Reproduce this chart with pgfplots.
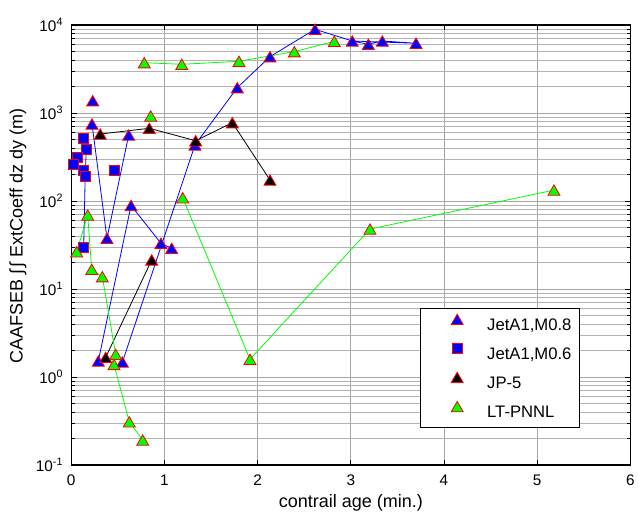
\documentclass[border=0pt]{standalone}
\usepackage{fontspec}
\setmainfont{Liberation Sans}
\usepackage{pgfplots}
\pgfplotsset{compat=1.18}

\definecolor{ptblue}{rgb}{0,0,1}
\definecolor{ptgreen}{rgb}{0,1,0}
\definecolor{ptedge}{rgb}{1,0,0}

% triangle marks centred on their bounding box rather than their centroid
\pgfplotsset{tri/.style={only marks, mark=triangle*, mark size=5.2pt,
  mark options={fill=#1, draw=ptedge, line width=0.6pt, yshift=-1.3pt}}}

\begin{document}
\begin{tikzpicture}
\begin{axis}[
  scale only axis,
  width=419.4pt, height=330pt,
  ymode=log,
  xmin=0, xmax=6, ymin=0.1, ymax=10000,
  xtick={0,1,2,3,4,5,6},
  xticklabels={0,1,2,3,4,5,6},
  ytick={0.1,1,10,100,1000,10000},
  yticklabels={10\textsuperscript{-1},10\textsuperscript{0},10\textsuperscript{1},10\textsuperscript{2},10\textsuperscript{3},10\textsuperscript{4}},
  minor ytick={0.2,0.3,0.4,0.5,0.6,0.7,0.8,0.9,
               2,3,4,5,6,7,8,9,
               20,30,40,50,60,70,80,90,
               200,300,400,500,600,700,800,900,
               2000,3000,4000,5000,6000,7000,8000,9000},
  xtick pos=both, ytick pos=both,
  tick align=inside,
  major tick length=4pt, minor tick length=2.5pt,
  tick style={black, line width=0.6pt},
  xmajorgrids=true, ymajorgrids=true, yminorgrids=true,
  major grid style={gray!70, line width=0.6pt},
  minor grid style={gray!60, line width=0.5pt},
  axis line style={black, line width=1pt},
  ticklabel style={font=\fontsize{11.5}{13}\selectfont},
  xticklabel style={yshift=-4pt},
  yticklabel style={xshift=-2.5pt},
  label style={font=\fontsize{13.5}{16}\selectfont},
  xlabel={contrail age (min.)},
  ylabel={CAAFSEB ∫\,∫ ExtCoeff dz dy (m)},
  x label style={at={(axis description cs:0.5,-0.0864)}, anchor=center},
  y label style={at={(axis description cs:-0.0954,0.52)}, anchor=center},
  legend style={
    at={(0.624,0.357)}, anchor=north west,
    draw=black, line width=0.6pt, fill=white,
    font=\fontsize{12.5}{15}\selectfont,
    inner xsep=6pt, inner ysep=4.4pt,
    row sep=7pt, column sep=13pt,
    nodes={inner sep=0pt, text height=9pt, text depth=2.5pt},
  },
  legend cell align=left,
  legend image code/.code={%
    \path[draw=none, fill=none] (0pt,-4pt) rectangle (31pt,4pt);
    \draw[#1] plot coordinates {(21.5pt,5.2pt)};%
  },
]

% connecting lines, drawn underneath the markers
\addplot[ptblue, line width=0.6pt, forget plot] coordinates {
  (0.223,750) (0.384,37.7) (0.617,562)};
\addplot[ptblue, line width=0.6pt, forget plot] coordinates {
  (0.291,1.52) (0.642,88.9) (0.963,33.1) (1.078,29.0)};
\addplot[ptblue, line width=0.6pt, forget plot] coordinates {
  (0.550,1.48) (1.328,433) (1.782,1939) (2.133,4365) (2.616,8940)
  (3.016,6580) (3.188,6040) (3.338,6580) (3.700,6200) (3.016,6580)};
\addplot[ptblue, line width=0.6pt, forget plot] coordinates {
  (0.132,513) (0.162,387) (0.150,192) (0.134,29.8)};
\addplot[black, line width=0.6pt, forget plot] coordinates {
  (0.312,577) (0.838,670) (1.336,484) (1.729,776) (2.133,173)};
\addplot[black, line width=0.6pt, forget plot] coordinates {
  (0.370,1.67) (0.864,21.4)};
\addplot[ptgreen, line width=0.6pt, forget plot] coordinates {
  (0.784,3730) (1.186,3575) (1.800,3870) (2.394,4975) (2.823,6530)};
\addplot[ptgreen, line width=0.6pt, forget plot] coordinates {
  (0.059,26.5) (0.177,69.3) (0.220,16.7) (0.334,13.8) (0.477,1.81)
  (0.459,1.39) (0.623,0.31) (0.767,0.192)};
\addplot[ptgreen, line width=0.6pt, forget plot] coordinates {
  (1.196,109) (1.918,1.59) (3.206,48) (5.18,133)};

% JetA1, M0.8
\addplot[tri=ptblue] coordinates {
  (0.231,1380) (0.223,750) (0.384,37.7) (0.617,562) (0.291,1.52)
  (0.642,88.9) (0.963,33.1) (1.078,29.0) (0.550,1.48) (1.328,433)
  (1.782,1939) (2.133,4365) (2.616,8940) (3.016,6580) (3.188,6040)
  (3.338,6580) (3.700,6200)};
\addlegendentry{JetA1,M0.8}

% JetA1, M0.6
\addplot[only marks, mark=square*, mark size=3.75pt,
  mark options={fill=ptblue, draw=ptedge, line width=0.6pt}] coordinates {
  (0.132,513) (0.162,387) (0.064,316) (0.025,263) (0.132,225)
  (0.150,192) (0.465,225) (0.134,29.8)};
\addlegendentry{JetA1,M0.6}

% JP-5
\addplot[tri=black] coordinates {
  (0.312,577) (0.838,670) (1.336,484) (1.729,776) (2.133,173)
  (0.370,1.67) (0.864,21.4)};
\addlegendentry{JP-5}

% LT-PNNL
\addplot[tri=ptgreen] coordinates {
  (0.784,3730) (1.186,3575) (1.800,3870) (2.394,4975) (2.823,6530)
  (0.853,925) (1.196,109) (1.918,1.59) (3.206,48) (5.18,133)
  (0.059,26.5) (0.177,69.3) (0.220,16.7) (0.334,13.8) (0.477,1.81)
  (0.459,1.39) (0.623,0.31) (0.767,0.192)};
\addlegendentry{LT-PNNL}

\end{axis}
\pgfresetboundingbox
\path ([shift={(-53.4pt,-38.25pt)}]current axis.south west)
      rectangle ([shift={(5.7pt,18.75pt)}]current axis.north east);
\end{tikzpicture}
\end{document}
